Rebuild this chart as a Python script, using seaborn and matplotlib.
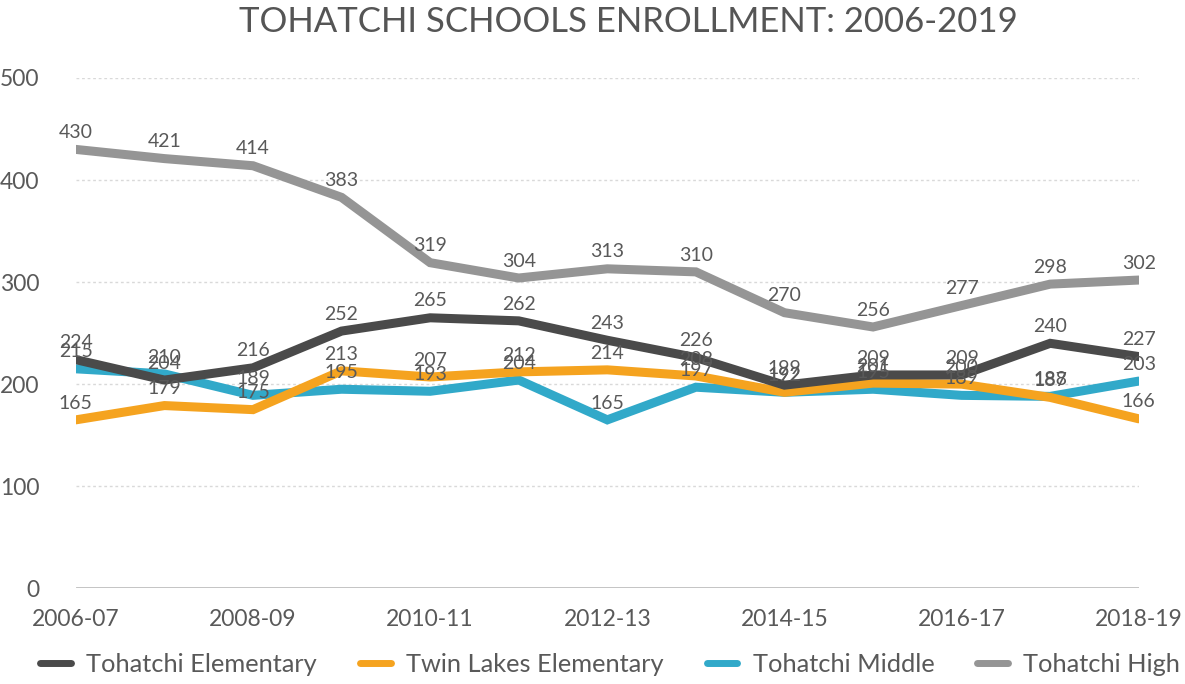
import matplotlib
matplotlib.use("Agg")
import matplotlib.pyplot as plt
import seaborn as sns
import pandas as pd
from matplotlib.lines import Line2D

years = ["2006-07", "2007-08", "2008-09", "2009-10", "2010-11", "2011-12", "2012-13",
         "2013-14", "2014-15", "2015-16", "2016-17", "2017-18", "2018-19"]
elementary = [224, 204, 216, 252, 265, 262, 243, 226, 199, 209, 209, 240, 227]
twin_lakes = [165, 179, 175, 213, 207, 212, 214, 208, 192, 201, 200, 187, 166]
middle = [215, 210, 189, 195, 193, 204, 165, 197, 192, 195, 189, 188, 203]
high = [430, 421, 414, 383, 319, 304, 313, 310, 270, 256, 277, 298, 302]

series_names = ["Tohatchi Elementary", "Twin Lakes Elementary", "Tohatchi Middle", "Tohatchi High"]
series_vals = [elementary, twin_lakes, middle, high]
colors = ["#4a4a4a", "#f5a31f", "#31a9c9", "#959595"]

rows = []
for name, vals in zip(series_names, series_vals):
    for i, (y, v) in enumerate(zip(years, vals)):
        rows.append({"idx": i, "year": y, "school": name, "enrollment": v})
df = pd.DataFrame(rows)

sns.set_theme(style="white")
plt.rcParams["font.family"] = ["Lato", "DejaVu Sans"]
text_color = "#595959"

fig = plt.figure(figsize=(11.85, 6.84), dpi=100)
ax = fig.add_axes([0.064, 0.140, 0.897, 0.746])

# draw in reverse so Elementary is on top
zorders = {"Tohatchi Elementary": 6, "Twin Lakes Elementary": 5, "Tohatchi Middle": 4, "Tohatchi High": 3}
for name, col in zip(reversed(series_names), reversed(colors)):
    sub = df[df["school"] == name]
    sns.lineplot(data=sub, x="idx", y="enrollment", color=col, linewidth=6.5,
                 ax=ax, legend=False, zorder=zorders[name], solid_joinstyle="miter")

for name, vals in zip(series_names, series_vals):
    for i, v in enumerate(vals):
        ax.annotate(str(v), (i, v), xytext=(0, 6), textcoords="offset points",
                    ha="center", va="bottom", fontsize=14, color=text_color, zorder=10)

ax.set_xlim(0, 12)
ax.set_ylim(0, 500)
ax.set_yticks([0, 100, 200, 300, 400, 500])
ax.set_xticks(range(0, 13, 2))
ax.set_xticklabels(years[::2])
ax.set_xlabel("")
ax.set_ylabel("")
for s in ax.spines.values():
    s.set_visible(False)
ax.axhline(0, color="#bfbfbf", linewidth=2, zorder=2)
for yv in [100, 200, 300, 400, 500]:
    ax.axhline(yv, color="#d9d9d9", linewidth=1, linestyle=(0, (2, 2)), zorder=1)
ax.tick_params(axis="y", length=0, labelsize=16.5, labelcolor=text_color, pad=26)
ax.tick_params(axis="x", length=0, labelsize=16.5, labelcolor=text_color, pad=15)

fig.text(0.53, 0.968, "TOHATCHI SCHOOLS ENROLLMENT: 2006-2019", ha="center", va="center",
         fontsize=25, color="#555555", fontweight="normal", fontfamily=["Lato", "DejaVu Sans"])

handles = [Line2D([0], [0], color=c, linewidth=5) for c in colors]
fig.legend(handles, series_names, loc="center", bbox_to_anchor=(0.515, 0.028), ncol=4,
           frameon=False, fontsize=18.3, labelcolor=text_color, handlelength=1.2,
           columnspacing=1.7, handletextpad=0.6)

fig.savefig("out.png", dpi=100, facecolor="white")
